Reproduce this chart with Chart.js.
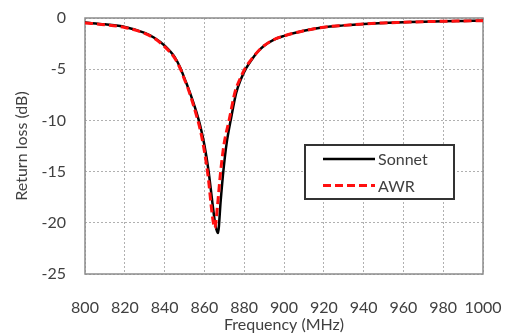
<!DOCTYPE html>
<html>
<head>
<meta charset="utf-8">
<script src="https://cdn.jsdelivr.net/npm/chart.js@4"></script>
<style>
  html, body { margin: 0; padding: 0; background: #fff; }
  #wrap { width: 508px; height: 336px; }
</style>
</head>
<body>
<div id="wrap"><canvas id="myChart" width="508" height="336"></canvas></div>
<script>
// frequency points (MHz) and return loss (dB)
const freqSonnet = [800, 810, 820, 830, 835, 840, 845, 848, 850, 852, 854, 856, 858, 860, 862, 864, 865.5, 866.8, 868.2, 869.5, 871.2, 873.4, 876, 878.5, 881, 884, 887, 890, 895, 900, 910, 920, 930, 940, 950, 960, 970, 980, 990, 1000];
const lossSonnet = [-0.45, -0.62, -0.87, -1.45, -1.95, -2.7, -3.8, -4.9, -5.9, -6.9, -8.0, -9.2, -10.6, -12.4, -14.8, -18, -20.2, -21.0, -17.8, -15, -12.2, -9.8, -7.3, -5.9, -4.9, -4.0, -3.25, -2.7, -2.1, -1.75, -1.25, -0.9, -0.72, -0.58, -0.48, -0.42, -0.36, -0.32, -0.29, -0.26];

const freqAwr = [800, 810, 820, 830, 835, 840, 845, 848, 850, 852, 854, 856, 858, 860, 862, 863.8, 865.2, 866.6, 868, 869.8, 872.5, 875.3, 878, 880.5, 884, 887, 890, 895, 900, 910, 920, 930, 940, 950, 960, 970, 980, 990, 1000];
const lossAwr = [-0.48, -0.66, -0.92, -1.5, -2.0, -2.8, -3.9, -5.0, -6.0, -7.0, -8.2, -9.5, -11.0, -13.0, -15.7, -19, -20.5, -18.3, -15.3, -12.4, -9.9, -7.3, -5.9, -4.9, -3.95, -3.25, -2.7, -2.1, -1.75, -1.25, -0.9, -0.72, -0.58, -0.48, -0.42, -0.36, -0.32, -0.29, -0.26];

const seriesNames = ["Sonnet", "AWR"];
const xTicks = [800, 820, 840, 860, 880, 900, 920, 940, 960, 980, 1000];
const yTicks = [-25, -20, -15, -10, -5, 0];

const toPoints = (xs, ys) => xs.map((x, i) => ({ x: x, y: ys[i] }));
const textColor = "#404040";
const fontFamily = "Lato, 'Open Sans', sans-serif";
const gridColor = "#b0b0b0";

// grey frame round the plot area
const frame = {
    id: "frame",
    beforeDatasetsDraw(chart) {
        const { ctx, chartArea: a } = chart;
        ctx.save();
        ctx.strokeStyle = "#8c8c8c";
        ctx.lineWidth = 1.5;
        ctx.strokeRect(a.left, a.top, a.right - a.left, a.bottom - a.top);
        ctx.restore();
    },
};

// boxed legend inside the plot
const boxLegend = {
    id: "boxLegend",
    afterDraw(chart) {
        const ctx = chart.ctx;
        const x0 = 305, y0 = 145, w = 149, h = 54;
        ctx.save();
        ctx.fillStyle = "#fff";
        ctx.fillRect(x0, y0, w, h);
        ctx.strokeStyle = "#333";
        ctx.lineWidth = 2;
        ctx.strokeRect(x0, y0, w, h);
        ctx.font = "16px " + fontFamily;
        ctx.textBaseline = "middle";
        chart.data.datasets.forEach((ds, i) => {
            const y = y0 + 14 + i * 26.5;
            ctx.beginPath();
            ctx.strokeStyle = ds.borderColor;
            ctx.lineWidth = ds.borderWidth;
            ctx.setLineDash(ds.borderDash || []);
            ctx.moveTo(323, y);
            ctx.lineTo(375, y);
            ctx.stroke();
            ctx.setLineDash([]);
            ctx.fillStyle = textColor;
            ctx.fillText(ds.label, 378, y + 1);
        });
        ctx.restore();
    },
};

const ctx = document.getElementById("myChart").getContext("2d");
new Chart(ctx, {
    type: "line",
    data: {
        datasets: [
            {
                label: seriesNames[0],
                data: toPoints(freqSonnet, lossSonnet),
                borderColor: "#000000",
                borderWidth: 2.5,
                pointRadius: 0,
                cubicInterpolationMode: "monotone",
                order: 2,
            },
            {
                label: seriesNames[1],
                data: toPoints(freqAwr, lossAwr),
                borderColor: "#ff1010",
                borderWidth: 3,
                borderDash: [8, 4],
                pointRadius: 0,
                cubicInterpolationMode: "monotone",
                order: 1,
            },
        ],
    },
    options: {
        responsive: false,
        animation: false,
        layout: { padding: { top: 18, right: 25, left: 0, bottom: 0 } },
        plugins: { legend: { display: false }, tooltip: { enabled: false } },
        scales: {
            x: {
                type: "linear",
                min: 800,
                max: 1000,
                afterBuildTicks: (s) => { s.ticks = xTicks.map((v) => ({ value: v })); },
                afterFit: (s) => { s.height = 62; },
                // invisible tick marks push the labels away from the axis
                grid: { color: gridColor, drawTicks: true, tickLength: 24, tickColor: "rgba(0,0,0,0)" },
                border: { display: false, dash: [2, 2] },
                ticks: {
                    padding: 0,
                    color: textColor,
                    font: { family: fontFamily, size: 16 },
                    maxRotation: 0,
                    autoSkip: false,
                    callback: (v) => String(v),
                },
                title: {
                    display: true,
                    text: "Frequency (MHz)",
                    color: textColor,
                    font: { family: fontFamily, size: 16 },
                    padding: { top: 0, bottom: 2 },
                },
            },
            y: {
                min: -25,
                max: 0,
                afterBuildTicks: (s) => { s.ticks = yTicks.map((v) => ({ value: v })); },
                afterFit: (s) => { s.width = 85; },
                grid: { color: gridColor, drawTicks: true, tickLength: 19, tickColor: "rgba(0,0,0,0)" },
                border: { display: false, dash: [2, 2] },
                ticks: { padding: 0, color: textColor, font: { family: fontFamily, size: 16 }, autoSkip: false },
                title: {
                    display: true,
                    text: "Return loss (dB)",
                    color: textColor,
                    font: { family: fontFamily, size: 16 },
                    padding: { top: 12, bottom: 0 },
                },
            },
        },
    },
    plugins: [frame, boxLegend],
});
</script>
</body>
</html>
